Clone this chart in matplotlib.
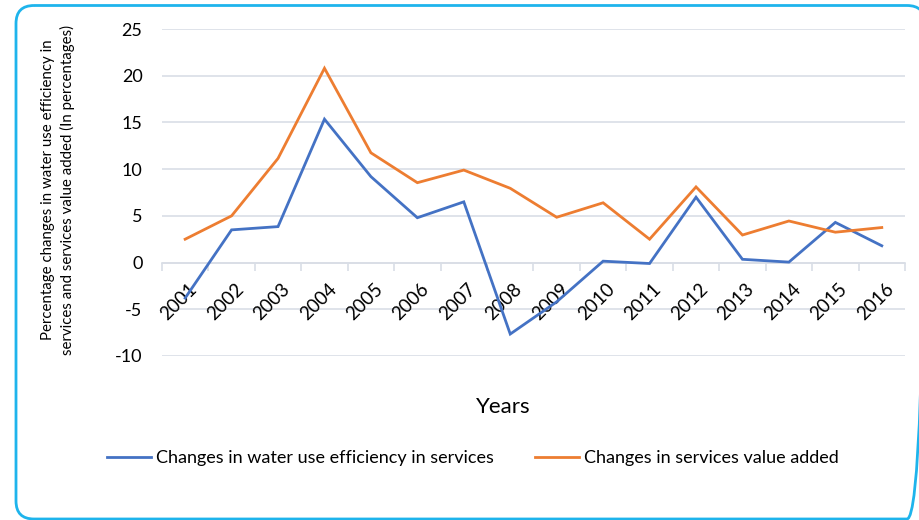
import matplotlib
matplotlib.use('Agg')

import matplotlib.pyplot as plt
import matplotlib.patches as patches
import matplotlib.transforms as mtransforms
import numpy as np

plt.rcParams['font.family'] = ['Lato', 'DejaVu Sans']

years = ['2001', '2002', '2003', '2004', '2005', '2006', '2007', '2008',
         '2009', '2010', '2011', '2012', '2013', '2014', '2015', '2016']
water_eff = [-3.8, 3.5, 3.85, 15.35, 9.2, 4.8, 6.5, -7.65,
             -4.2, 0.15, -0.1, 7.0, 0.35, 0.05, 4.3, 1.8]
value_added = [2.5, 5.0, 11.15, 20.8, 11.75, 8.55, 9.9, 7.95,
               4.85, 6.4, 2.5, 8.1, 2.95, 4.45, 3.25, 3.75]
y_ticks = [-10, -5, 0, 5, 10, 15, 20, 25]

BLUE = '#4472C4'
ORANGE = '#ED7D31'
GRID = '#D9DEE6'
FRAME = '#1EB4EC'

fig = plt.figure(figsize=(9.2, 5.2), dpi=100)

# background layer in pixel units for the rounded frame
bg = fig.add_axes([0, 0, 1, 1], zorder=-1)
bg.set_xlim(0, 920)
bg.set_ylim(520, 0)
bg.axis('off')
bg.add_patch(patches.FancyBboxPatch(
    (16, 5.5), 925 - 16, 519 - 5.5,
    boxstyle='round,pad=0,rounding_size=18',
    linewidth=2, edgecolor=FRAME, facecolor='none'))

ax = fig.add_axes([0.176, 0.3154, 0.8077, 0.6288])
ax.patch.set_alpha(0)

x = np.arange(len(years))
ax.plot(x, water_eff, color=BLUE, linewidth=2, solid_joinstyle='miter',
        label='Changes in water use efficiency in services', zorder=3)
ax.plot(x, value_added, color=ORANGE, linewidth=2, solid_joinstyle='miter',
        label='Changes in services value added', zorder=3)

ax.set_xlim(-0.5, len(years) - 0.5)
ax.set_ylim(-10, 25)
ax.set_yticks(y_ticks)
ax.set_yticklabels([str(v) for v in y_ticks])
ax.tick_params(axis='y', length=0, pad=14, labelsize=13)

for v in y_ticks:
    ax.axhline(v, color=GRID, linewidth=1.2, zorder=1)

for s in ['top', 'right', 'left']:
    ax.spines[s].set_visible(False)
ax.spines['bottom'].set_position(('data', 0))
ax.spines['bottom'].set_color(GRID)
ax.spines['bottom'].set_linewidth(1.2)

ax.set_xticks(x)
ax.set_xticklabels(years, rotation=45, ha='right', va='top',
                   rotation_mode='anchor')
ax.set_xticks(np.arange(-0.5, len(years), 1), minor=True)
ax.tick_params(axis='x', which='major', length=0, pad=13, labelsize=13.5)
ax.tick_params(axis='x', which='minor', length=6, color=GRID, width=1.2)
offset = mtransforms.ScaledTranslation(3 / 100, 0, fig.dpi_scale_trans)
for lbl in ax.get_xticklabels():
    lbl.set_transform(lbl.get_transform() + offset)

fig.text(503 / 920, 1 - 407 / 520, 'Years', ha='center', va='center',
         fontsize=16)
fig.text(58 / 920, 1 - 190 / 520,
         'Percentage changes in water use efficiency in\n'
         'services and services value added (In percentages)',
         rotation=90, ha='center', va='center', fontsize=10.8,
         multialignment='center', linespacing=1.35)

fig.legend(loc='center', bbox_to_anchor=(473 / 920, 1 - 458 / 520),
           ncol=2, frameon=False, fontsize=13, handlelength=2.4,
           handletextpad=0.3, columnspacing=2.3)

fig.savefig('out.png', dpi=100)
